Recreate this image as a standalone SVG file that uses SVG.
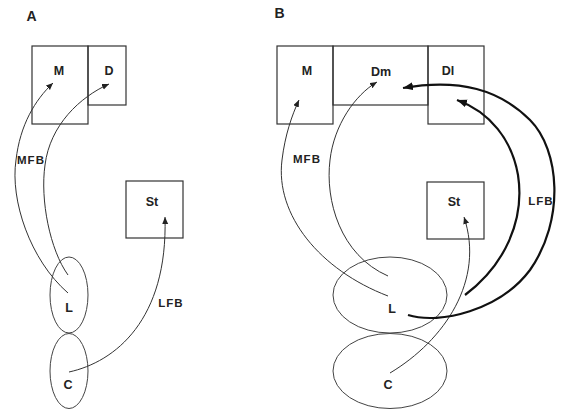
<svg xmlns="http://www.w3.org/2000/svg" width="563" height="410" viewBox="0 0 563 410">
  <defs>
    <marker id="arrow" markerUnits="userSpaceOnUse" markerWidth="10" markerHeight="8" refX="7" refY="3" orient="auto">
      <path d="M0,0 L7,3 L0,6 Z" fill="#222"/>
    </marker>
    <marker id="arrow-bold" markerUnits="userSpaceOnUse" markerWidth="14" markerHeight="10" refX="10" refY="4" orient="auto">
      <path d="M0,0 L10,4 L0,8 Z" fill="#111"/>
    </marker>
    <style>
      .box { fill: none; stroke: #333; stroke-width: 1.2; }
      .ell { fill: none; stroke: #444; stroke-width: 1; }
      .lbl { font-family: "Liberation Sans", Arial, sans-serif; font-size: 12.5px; font-weight: bold; fill: #222; text-anchor: middle; }
      .tag { font-family: "Liberation Sans", Arial, sans-serif; font-size: 11.5px; font-weight: bold; fill: #222; text-anchor: middle; letter-spacing: 1px; }
      .panel { font-family: "Liberation Sans", Arial, sans-serif; font-size: 14px; font-weight: bold; fill: #222; text-anchor: middle; }
      .thin { fill: none; stroke: #333; stroke-width: 1; marker-end: url(#arrow); }
      .bold { fill: none; stroke: #111; stroke-width: 2.2; marker-end: url(#arrow-bold); }
    </style>
  </defs>

  <!-- Panel A -->
  <text class="panel" x="31.5" y="21">A</text>
  <g id="a-M"><rect class="box" x="32" y="46" width="56" height="78"/><text class="lbl" x="59" y="75">M</text></g>
  <g id="a-D"><rect class="box" x="88" y="46" width="38" height="59"/><text class="lbl" x="109" y="75">D</text></g>
  <g id="a-St"><rect class="box" x="126" y="181" width="57" height="57"/><text class="lbl" x="152" y="206">St</text></g>
  <g id="a-L"><ellipse class="ell" cx="69" cy="295" rx="19" ry="38"/><text class="lbl" x="69" y="312">L</text></g>
  <g id="a-C"><ellipse class="ell" cx="69" cy="371" rx="19" ry="37.5"/><text class="lbl" x="68" y="389">C</text></g>

  <!-- Panel B -->
  <text class="panel" x="279.5" y="18">B</text>
  <g id="b-M"><rect class="box" x="277" y="46" width="56" height="78"/><text class="lbl" x="307" y="75">M</text></g>
  <g id="b-Dm"><rect class="box" x="333" y="46" width="95" height="59"/><text class="lbl" x="381" y="76">Dm</text></g>
  <g id="b-Dl"><rect class="box" x="428" y="46" width="56" height="78"/><text class="lbl" x="448" y="75">Dl</text></g>
  <g id="b-St"><rect class="box" x="427" y="182" width="57" height="57"/><text class="lbl" x="454" y="206">St</text></g>
  <g id="b-L"><ellipse class="ell" cx="390" cy="295" rx="57" ry="38"/><text class="lbl" x="392" y="313">L</text></g>
  <g id="b-C"><ellipse class="ell" cx="390" cy="371" rx="57" ry="37.5"/><text class="lbl" x="388" y="389">C</text></g>

  <!-- Connectors -->
  <g id="connectors">
    <path class="thin" d="M68,293 C30,260 10,200 16,160 C20,125 35,100 53,83"/>
    <path class="thin" d="M68,275 C50,250 40,200 45,165 C50,125 80,97 109,84"/>
    <path class="thin" d="M69,372 C115,362 168,320 165,217"/>
    <text class="tag" x="31" y="164">MFB</text>
    <text class="tag" x="171" y="307">LFB</text>

    <path class="thin" d="M388,296 C320,270 275,215 282,160 C285,135 292,115 299,100"/>
    <path class="thin" d="M388,276 C340,255 325,200 330,160 C334,125 355,95 377,82"/>
    <path class="thin" d="M390,373 C445,340 485,280 464,217"/>
    <path class="bold" d="M465,295 C505,265 525,220 518,175 C512,140 490,112 457,100"/>
    <path class="bold" d="M408,315 C440,325 500,310 530,270 C565,220 560,150 530,120 C500,90 460,78 403,88"/>
    <text class="tag" x="307" y="163">MFB</text>
    <text class="tag" x="541" y="205">LFB</text>
  </g>
</svg>
